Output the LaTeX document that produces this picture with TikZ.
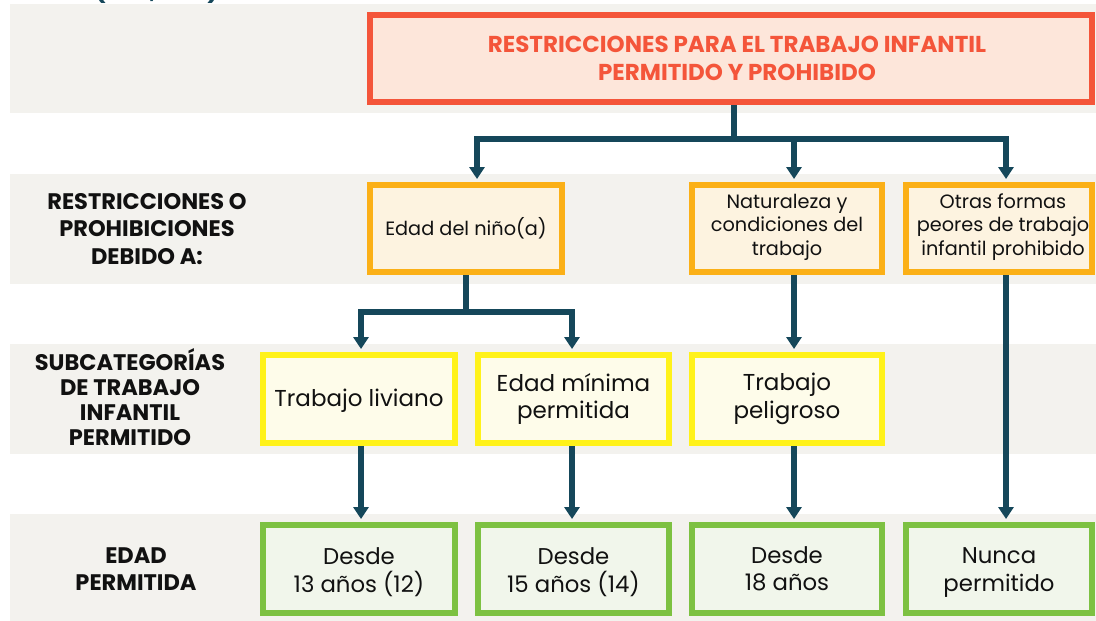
\documentclass[tikz,border=0pt]{standalone}
\usepackage{fontspec}
\setmainfont{Poppins}
\usetikzlibrary{arrows.meta}
\definecolor{bandc}{HTML}{F3F2EE}
\definecolor{arrowc}{HTML}{15475A}
\definecolor{redb}{HTML}{F4553A}
\definecolor{redf}{HTML}{FDE6DA}
\definecolor{orab}{HTML}{FBB017}
\definecolor{oraf}{HTML}{FDF3E0}
\definecolor{yelb}{HTML}{FFF21A}
\definecolor{yelf}{HTML}{FEFCEA}
\definecolor{grnb}{HTML}{7DC142}
\definecolor{grnf}{HTML}{F1F6EB}
\definecolor{labc}{HTML}{111111}
\newcommand{\lowr}{\rule{0pt}{23pt}}
\newcommand{\raisr}{\rule[-8pt]{0pt}{0pt}}
\begin{document}
\begin{tikzpicture}[x=1pt,y=-1pt,
  box/.style={draw, line width=6pt, inner sep=1pt, align=center, text=labc},
  topbox/.style={box, draw=redb, fill=redf, minimum width=722pt, minimum height=87pt,
     text=redb, font=\fontsize{23}{28}\selectfont\bfseries},
  orabox/.style={box, draw=orab, fill=oraf, minimum width=#1, minimum height=87pt,
     font=\fontsize{19.3}{23.5}\selectfont},
  yelbox/.style={box, draw=yelb, fill=yelf, minimum width=#1, minimum height=88pt,
     font=\fontsize{23}{27.5}\selectfont},
  grnbox/.style={box, draw=grnb, fill=grnf, minimum width=#1, minimum height=88pt,
     font=\fontsize{22.8}{27.5}\selectfont},
  rowlab/.style={align=center, text=labc, font=\fontsize{22.5}{#1}\selectfont\bfseries},
  conn/.style={draw=arrowc, line width=6pt},
  arr/.style={conn, -{Triangle[width=15pt,length=12pt]}, shorten >=3pt}
]
\useasboundingbox (0,0) rectangle (1096,621);
\fill[white] (0,0) rectangle (1096,621);
% clipped heading fragment
\begin{scope}
  \clip (0,0) rectangle (1096,4);
  \node[anchor=south, inner sep=0pt, text=arrowc, font=\fontsize{24}{28}\selectfont\bfseries] (hp1) at (100,3.5) {(};
  \node[anchor=south, inner sep=0pt, text=arrowc, font=\fontsize{24}{28}\selectfont\bfseries] (hp2) at (153,1.5) {,};
  \node[anchor=south, inner sep=0pt, text=arrowc, font=\fontsize{24}{28}\selectfont\bfseries] (hp3) at (213,3.5) {)};
\end{scope}
% bands
\fill[bandc] (10,4) rectangle (1096,113);
\fill[bandc] (10,174) rectangle (1096,284);
\fill[bandc] (10,344) rectangle (1096,454);
\fill[bandc] (10,514) rectangle (1096,621);
% row labels
\node[rowlab=27.5] (lab2) at (147,229) {RESTRICCIONES O\\PROHIBICIONES\\DEBIDO A:};
\node[rowlab=25] (lab3) at (130,397.5) {SUBCATEGORÍAS\\DE TRABAJO\\INFANTIL\\PERMITIDO};
\node[rowlab=27.5] (lab4) at (136,569) {EDAD\\PERMITIDA};
% boxes
\node[topbox] (top) at (731,58.5) {\hspace*{12pt}RESTRICCIONES PARA EL TRABAJO INFANTIL\\\hspace*{12pt}PERMITIDO Y PROHIBIDO};
\node[orabox=192pt] (edad) at (466,228.5) {Edad del niño(a)};
\node[orabox=190pt] (nat) at (787,228.5) {Naturaleza y\\condiciones del\\trabajo\raisr};
\node[orabox=186pt] (otras) at (999,228.5) {\hspace*{8pt}Otras formas\\\hspace*{8pt}peores de trabajo\\\hspace*{8pt}infantil prohibido\raisr};
\node[yelbox=192pt] (liv) at (359,399) {\rule{0pt}{21pt}Trabajo liviano};
\node[yelbox=191pt] (emin) at (573.5,399) {Edad mínima\\permitida};
\node[yelbox=190pt] (pel) at (787,399) {Trabajo\\peligroso};
\node[grnbox=192pt] (g1) at (359,569) {\lowr Desde\\13 años (12)};
\node[grnbox=191pt] (g2) at (573.5,569) {\lowr Desde\\15 años (14)};
\node[grnbox=190pt] (g3) at (787,569) {Desde\\18 años};
\node[grnbox=186pt] (g4) at (999,569) {\lowr Nunca\\permitido};
% junction coordinates
\coordinate (j1) at (734,139);
\coordinate (a1) at (477,139);
\coordinate (a2) at (794,139);
\coordinate (a3) at (1006,139);
\coordinate (j2) at (466,312);
\coordinate (b1) at (361,312);
\coordinate (b2) at (572,312);
% connectors
\draw[conn] (top.south -| j1) -- (j1);
\draw[arr] (j1) -- (a1) -- (edad.north -| a1);
\draw[arr] (a2) -- (nat.north -| a2);
\draw[arr] (j1) -- (a3) -- (otras.north -| a3);
\draw[conn] (edad.south -| j2) -- (j2);
\draw[arr] (j2) -- (b1) -- (liv.north -| b1);
\draw[arr] (j2) -- (b2) -- (emin.north -| b2);
\draw[arr] (nat.south -| a2) -- (pel.north -| a2);
\draw[arr] (otras.south -| a3) -- (g4.north -| a3);
\draw[arr] (liv.south -| b1) -- (g1.north -| b1);
\draw[arr] (emin.south -| b2) -- (g2.north -| b2);
\draw[arr] (pel.south -| a2) -- (g3.north -| a2);
\end{tikzpicture}
\end{document}
